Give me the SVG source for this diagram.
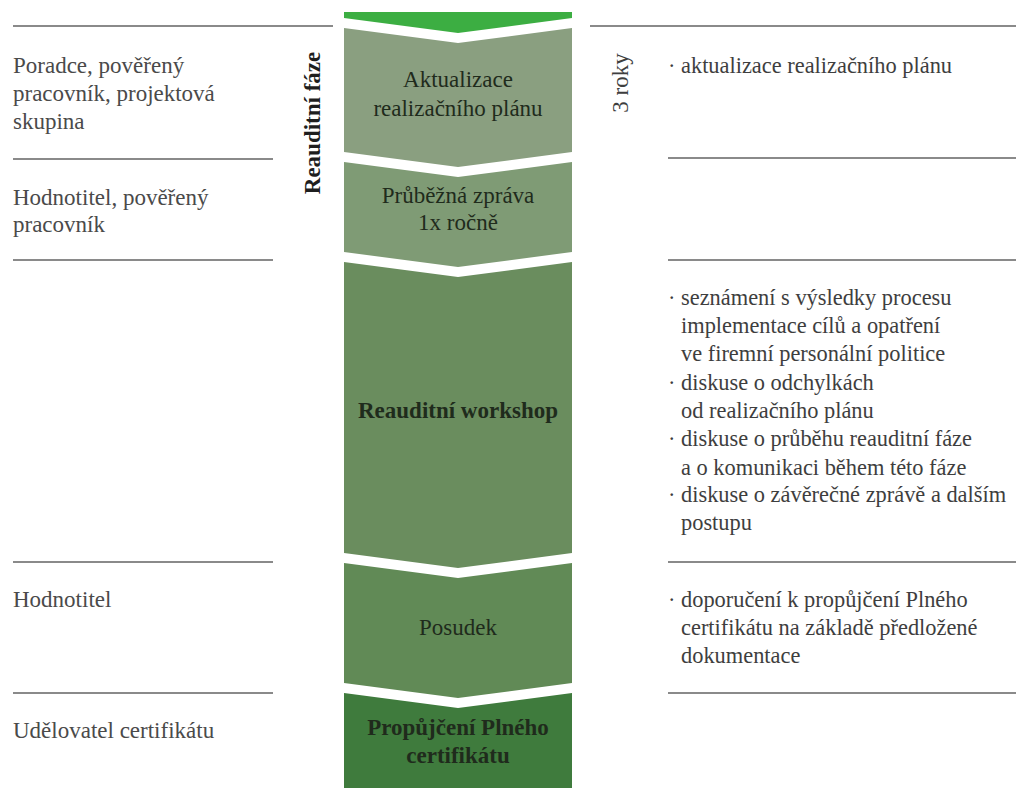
<svg xmlns="http://www.w3.org/2000/svg" width="1016" height="788" viewBox="0 0 1016 788">
<style>
.t{font-family:"Liberation Serif","Times New Roman",serif;font-size:23px;}
.l{fill:#4a4a4a;}
.r{fill:#3e3e3e;font-size:22.4px;}
.c{fill:#1f2b1c;text-anchor:middle;}
.b{font-weight:bold;}
.rule{stroke:#8a8a8a;stroke-width:2;fill:none;}
</style>
<rect width="1016" height="788" fill="#ffffff"/>
<g id="rules">
<line class="rule" x1="13" y1="26" x2="333" y2="26"/>
<line class="rule" x1="13" y1="159" x2="273" y2="159"/>
<line class="rule" x1="13" y1="260" x2="273" y2="260"/>
<line class="rule" x1="13" y1="562" x2="273" y2="562"/>
<line class="rule" x1="13" y1="693" x2="273" y2="693"/>
<line class="rule" x1="590" y1="26" x2="1016" y2="26"/>
<line class="rule" x1="668" y1="158" x2="1016" y2="158"/>
<line class="rule" x1="668" y1="260" x2="1016" y2="260"/>
<line class="rule" x1="668" y1="562" x2="1016" y2="562"/>
<line class="rule" x1="668" y1="693" x2="1016" y2="693"/>
</g>
<g id="top-band">
<polygon points="344,12 572,12 572,18 458,33 344,18" fill="#3cae42"/>
</g>
<g id="step-aktualizace">
<polygon points="344,28 458,43 572,28 572,152 458,167 344,152" fill="#8a9f80"/>
<text class="t c" x="458" y="87">Aktualizace</text>
<text class="t c" x="458" y="116">realizačního plánu</text>
</g>
<g id="step-zprava">
<polygon points="344,162 458,177 572,162 572,252 458,267 344,252" fill="#7f9b75"/>
<text class="t c" x="458" y="203">Průběžná zpráva</text>
<text class="t c" x="458" y="230">1x ročně</text>
</g>
<g id="step-workshop">
<polygon points="344,262 458,277 572,262 572,553 458,568 344,553" fill="#6a8d5e"/>
<text class="t c b" x="458" y="418">Reauditní workshop</text>
</g>
<g id="step-posudek">
<polygon points="344,563 458,578 572,563 572,683 458,698 344,683" fill="#618a56"/>
<text class="t c" x="458" y="635" fill="#2e3f2a">Posudek</text>
</g>
<g id="step-certifikat">
<polygon points="344,693 458,708 572,693 572,788 344,788" fill="#3f7b3d"/>
<text class="t c b" x="458" y="735">Propůjčení Plného</text>
<text class="t c b" x="458" y="763">certifikátu</text>
</g>
<g id="phase-label">
<text class="t b" fill="#1e1e1e" text-anchor="middle" transform="translate(320,123) rotate(-90)">Reauditní fáze</text>
</g>
<g id="duration-label">
<text class="t" fill="#3e3e3e" text-anchor="middle" transform="translate(628,83) rotate(-90)">3 roky</text>
</g>
<g id="roles">
<text class="t l" x="13" y="73">Poradce, pověřený</text>
<text class="t l" x="13" y="101">pracovník, projektová</text>
<text class="t l" x="13" y="129">skupina</text>
<text class="t l" x="13" y="205">Hodnotitel, pověřený</text>
<text class="t l" x="13" y="232">pracovník</text>
<text class="t l" x="13" y="607">Hodnotitel</text>
<text class="t l" x="13" y="738">Udělovatel certifikátu</text>
</g>
<g id="notes">
<text class="t r" x="668" y="73">·</text><text class="t r" x="681" y="73">aktualizace realizačního plánu</text>
<text class="t r" x="668" y="305">·</text><text class="t r" x="681" y="305">seznámení s výsledky procesu</text>
<text class="t r" x="681" y="333">implementace cílů a opatření</text>
<text class="t r" x="681" y="361">ve firemní personální politice</text>
<text class="t r" x="668" y="390">·</text><text class="t r" x="681" y="390">diskuse o odchylkách</text>
<text class="t r" x="681" y="418">od realizačního plánu</text>
<text class="t r" x="668" y="446">·</text><text class="t r" x="681" y="446">diskuse o průběhu reauditní fáze</text>
<text class="t r" x="681" y="475">a o komunikaci během této fáze</text>
<text class="t r" x="668" y="502">·</text><text class="t r" x="681" y="502">diskuse o závěrečné zprávě a dalším</text>
<text class="t r" x="681" y="530">postupu</text>
<text class="t r" x="668" y="607">·</text><text class="t r" x="681" y="607">doporučení k propůjčení Plného</text>
<text class="t r" x="681" y="635">certifikátu na základě předložené</text>
<text class="t r" x="681" y="663">dokumentace</text>
</g>
</svg>
